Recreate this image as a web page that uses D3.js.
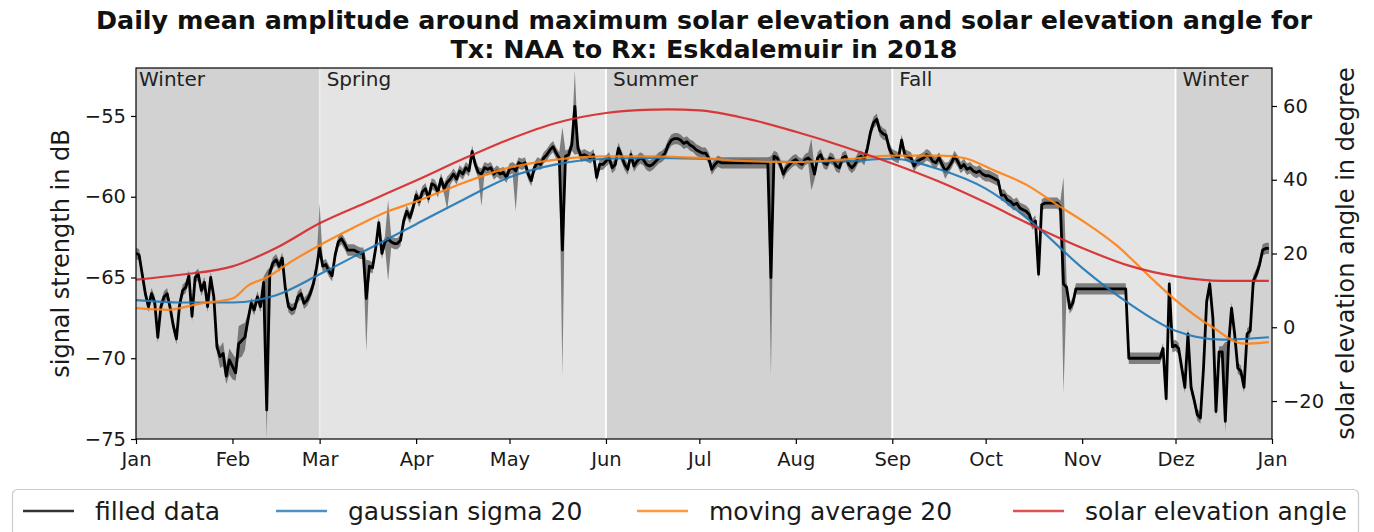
<!DOCTYPE html>
<html>
<head>
<meta charset="utf-8">
<script src="https://cdn.jsdelivr.net/npm/d3@7"></script>
<style>
  body { margin: 0; background: #fff; }
  svg text { font-family: "DejaVu Sans", sans-serif; }
</style>
</head>
<body>
<svg id="chart" width="1374" height="532"></svg>
<script>
// ---- data -----------------------------------------------------------------
const monthTicks  = [0, 31, 59, 90, 120, 151, 181, 212, 243, 273, 304, 334, 365];
const monthLabels = ["Jan", "Feb", "Mar", "Apr", "May", "Jun", "Jul", "Aug", "Sep", "Oct", "Nov", "Dez", "Jan"];

const seasonNames  = ["Winter", "Spring", "Summer", "Fall", "Winter"];
const seasonStarts = [0, 59, 151, 243, 334];
const seasonEnds   = [59, 151, 243, 334, 365];

const signalTicks = [-75, -70, -65, -60, -55];
const angleTicks  = [-20, 0, 20, 40, 60];

// daily signal strength (dB), one value per day of 2018
const filledData = [
  -63.5,-63.6,-64.8,-66.0,-66.8,-66.0,-66.5,-68.7,-66.8,-66.2,
  -66.0,-66.9,-68.0,-68.8,-66.7,-65.8,-65.6,-64.9,-67.4,-65.0,
  -64.8,-65.8,-65.3,-66.8,-65.0,-66.2,-69.3,-69.9,-69.7,-71.1,
  -70.1,-70.5,-70.9,-69.1,-68.9,-68.7,-67.6,-66.6,-67.0,-66.2,
  -66.8,-65.3,-73.2,-64.7,-64.1,-63.9,-64.3,-63.8,-65.7,-66.8,
  -67.0,-66.9,-66.2,-66.0,-66.6,-66.4,-66.0,-65.4,-64.4,-63.2,
  -64.3,-64.2,-64.6,-64.9,-63.6,-62.8,-62.6,-62.9,-63.3,-63.3,
  -63.3,-63.4,-63.5,-63.5,-66.3,-64.3,-64.4,-63.2,-61.6,-63.5,
  -62.8,-62.6,-62.8,-62.9,-62.9,-62.7,-61.5,-60.9,-61.3,-60.7,
  -59.9,-60.3,-59.7,-59.5,-60.1,-59.2,-59.3,-59.7,-58.9,-59.5,
  -59.1,-58.9,-58.6,-58.9,-58.4,-58.6,-58.2,-58.4,-57.2,-58.0,
  -58.5,-58.6,-58.2,-58.3,-58.2,-58.6,-58.4,-58.6,-58.5,-58.8,
  -58.3,-58.2,-58.4,-57.9,-58.0,-57.9,-58.6,-59.0,-58.2,-57.9,
  -58.0,-57.6,-57.4,-57.1,-56.9,-57.3,-57.6,-63.3,-57.5,-57.4,
  -56.8,-54.4,-57.0,-57.5,-57.4,-57.5,-57.6,-57.4,-58.8,-58.0,
  -58.0,-57.8,-57.6,-58.2,-58.0,-57.0,-57.5,-58.0,-58.3,-57.4,
  -58.1,-57.8,-57.6,-57.7,-58.0,-58.1,-58.0,-57.8,-57.6,-57.5,
  -57.3,-56.8,-56.5,-56.4,-56.4,-56.5,-56.7,-56.6,-56.8,-56.9,
  -57.1,-57.2,-57.3,-57.3,-57.6,-58.3,-58.0,-57.8,-57.9,-57.9,
  -57.9,-57.9,-57.9,-57.9,-57.9,-57.9,-57.9,-57.9,-57.9,-57.9,
  -57.9,-57.9,-57.9,-57.9,-65.0,-57.5,-57.6,-58.0,-58.6,-58.2,
  -58.0,-57.8,-57.7,-57.9,-58.0,-57.7,-57.6,-57.8,-58.6,-57.6,
  -57.4,-57.9,-58.0,-57.6,-57.7,-58.1,-58.2,-57.6,-57.5,-58.0,
  -58.2,-58.0,-57.6,-57.5,-57.7,-57.0,-56.0,-55.4,-55.2,-55.9,
  -56.1,-56.2,-57.0,-57.4,-57.5,-57.6,-56.5,-57.4,-57.5,-57.6,
  -58.1,-57.8,-57.7,-57.6,-57.4,-57.5,-57.8,-57.9,-57.6,-58.0,
  -58.4,-58.2,-57.9,-57.5,-57.8,-58.2,-58.0,-58.3,-58.2,-58.4,
  -58.5,-58.4,-58.6,-58.7,-58.7,-58.8,-58.9,-59.0,-59.9,-59.9,
  -60.2,-60.3,-60.5,-60.4,-60.7,-60.8,-60.9,-61.1,-61.7,-61.5,
  -64.8,-60.5,-60.4,-60.4,-60.4,-60.4,-60.4,-60.6,-65.4,-65.6,
  -66.9,-66.6,-65.7,-65.7,-65.7,-65.7,-65.7,-65.7,-65.7,-65.7,
  -65.7,-65.7,-65.7,-65.7,-65.7,-65.7,-65.7,-65.7,-65.7,-70.0,
  -70.0,-70.0,-70.0,-70.0,-70.0,-70.0,-70.0,-70.0,-70.0,-70.0,
  -69.4,-72.5,-65.4,-69.3,-69.2,-69.4,-70.6,-71.8,-68.5,-71.8,
  -72.6,-73.5,-73.7,-70.6,-66.5,-65.4,-67.5,-73.3,-69.6,-69.6,
  -73.9,-69.3,-66.9,-68.5,-70.6,-70.8,-71.8,-68.5,-68.3,-65.2,
  -64.8,-64.2,-63.3,-63.2,-63.2
];

// spread of the raw measurements around the filled series
const bandSpread = 0.35;
const bandDays = [27, 28, 29, 30, 31, 32, 33, 34, 35, 42, 59, 74, 81, 100, 111, 122, 137, 141, 204, 217, 260, 298, 350];
const bandLow  = [-70.6,-70.5,-71.6,-71.0,-71.3,-71.4,-70.0,-69.9,-69.5,-75.0,-63.6,-69.6,-65.2,-60.8,-60.6,-60.9,-71.1,-57.4,-71.1,-59.6,-58.9,-72.2,-74.6];
const bandHigh = [-69.3,-69.0,-70.4,-69.4,-69.7,-70.0,-68.0,-67.9,-67.8,-64.6,-60.4,-63.9,-60.2,-58.9,-58.3,-58.0,-55.7,-52.2,-57.5,-56.4,-57.9,-58.8,-69.0];

// gaussian filtered signal, sigma 20 days
const gaussDays = [0, 15, 31, 45, 59, 75, 90, 105, 120, 135, 151, 166, 181, 196, 212, 227, 243, 258, 273, 288, 304, 319, 334, 349, 364];
const gaussDb   = [-66.4,-66.55,-66.55,-66.1,-64.8,-63.2,-61.7,-60.2,-58.8,-58.0,-57.65,-57.6,-57.65,-57.75,-57.85,-57.8,-57.65,-58.3,-59.5,-61.6,-64.4,-66.6,-68.3,-68.85,-68.7];

// 20 day moving average
const avgDays = [0, 10, 21, 31, 36, 42, 50, 59, 70, 81, 90, 103, 120, 135, 151, 166, 181, 196, 212, 227, 243, 258, 266, 276, 286, 296, 305, 315, 326, 334, 346, 356, 364];
const avgDb   = [-66.9,-67.0,-66.6,-66.3,-65.5,-65.0,-64.0,-63.0,-61.9,-60.9,-60.3,-59.3,-58.2,-57.7,-57.5,-57.5,-57.6,-57.8,-57.85,-57.7,-57.45,-57.45,-57.6,-58.4,-59.25,-60.5,-61.6,-63.0,-65.0,-66.4,-68.1,-69.1,-69.0];

// maximum solar elevation angle (degree)
const solarDays = [0, 15, 31, 45, 59, 75, 90, 105, 120, 135, 151, 166, 171, 181, 196, 212, 227, 243, 258, 273, 288, 304, 319, 334, 349, 364];
const solarDeg  = [12.9, 14.3, 16.5, 21.5, 28.2, 34.2, 39.8, 45.6, 51.0, 55.4, 58.1, 59.0, 59.1, 58.8, 56.6, 53.0, 49.1, 44.4, 39.5, 33.8, 27.6, 21.5, 16.7, 13.8, 12.6, 12.6];

const legendLabels = ["filled data", "gaussian sigma 20", "moving average 20", "solar elevation angle"];
const legendColors = ["#000000", "#1f77b4", "#ff7f0e", "#d62728"];

// ---- layout ---------------------------------------------------------------
const svg = d3.select("#chart");
const plot = { left: 136, right: 1272, top: 68, bottom: 439 };
const TXT = "#1a1a1a";

const x  = d3.scaleLinear().domain([0, 365]).range([plot.left, plot.right]);
const yL = d3.scaleLinear().domain([-75, -52.03]).range([plot.bottom, plot.top]);
const yR = d3.scaleLinear().domain([-30.3, 70.3]).range([plot.bottom, plot.top]);

svg.append("rect").attr("width", 1374).attr("height", 532).attr("fill", "#fff");

svg.append("defs").append("clipPath").attr("id", "plotclip")
  .append("rect")
  .attr("x", plot.left).attr("y", plot.top)
  .attr("width", plot.right - plot.left).attr("height", plot.bottom - plot.top);

// season shading
const seasons = seasonNames.map((n, i) => ({ name: n, start: seasonStarts[i], end: seasonEnds[i], i }));
const shade = svg.append("g");
shade.selectAll("rect").data(seasons).join("rect")
  .attr("x", d => x(d.start)).attr("y", plot.top)
  .attr("width", d => x(d.end) - x(d.start))
  .attr("height", plot.bottom - plot.top)
  .attr("fill", d => (d.name === "Winter" || d.name === "Summer") ? "#d2d2d2" : "#e4e4e4");

shade.selectAll("line").data(seasons.slice(1)).join("line")
  .attr("x1", d => x(d.start)).attr("x2", d => x(d.start))
  .attr("y1", plot.top).attr("y2", plot.bottom)
  .attr("stroke", "#fff")
  .attr("stroke-opacity", d => d.name === "Spring" ? 0.35 : 1)
  .attr("stroke-width", 1.8);

shade.selectAll("text").data(seasons).join("text")
  .attr("x", d => x(d.start) + (d.i === 0 ? 3 : 7))
  .attr("y", 86)
  .attr("font-size", 20)
  .attr("fill", "#222")
  .text(d => d.name);

// data layers
const layers = svg.append("g").attr("clip-path", "url(#plotclip)");

const days = filledData.map((v, i) => i);
const lowArr = filledData.map(v => v - bandSpread);
const highArr = filledData.map(v => v + bandSpread);
bandDays.forEach((d, k) => {
  lowArr[d] = Math.min(lowArr[d], bandLow[k]);
  highArr[d] = Math.max(highArr[d], bandHigh[k]);
});

layers.append("path")
  .datum(days)
  .attr("d", d3.area().x(d => x(d)).y0(d => yL(lowArr[d])).y1(d => yL(highArr[d])))
  .attr("fill", "#3c3c3c").attr("fill-opacity", 0.6);

layers.append("path")
  .datum(days)
  .attr("d", d3.line().x(d => x(d)).y(d => yL(filledData[d])))
  .attr("fill", "none").attr("stroke", "#000").attr("stroke-width", 2.8)
  .attr("stroke-linejoin", "round");

const smooth = (xs, ys, sy) => d3.line().curve(d3.curveMonotoneX)
  .x((d, i) => x(xs[i])).y((d, i) => sy(ys[i]))(ys);

layers.append("path").attr("d", smooth(gaussDays, gaussDb, yL))
  .attr("fill", "none").attr("stroke", legendColors[1]).attr("stroke-width", 2.2).attr("stroke-opacity", 0.9);
layers.append("path").attr("d", smooth(avgDays, avgDb, yL))
  .attr("fill", "none").attr("stroke", legendColors[2]).attr("stroke-width", 2.2).attr("stroke-opacity", 0.9);
layers.append("path").attr("d", smooth(solarDays, solarDeg, yR))
  .attr("fill", "none").attr("stroke", legendColors[3]).attr("stroke-width", 2.2).attr("stroke-opacity", 0.9);

// axes
const minus = v => (v < 0 ? "\u2212" + Math.abs(v) : String(v));
function styleAxis(g) {
  g.select(".domain").remove();
  g.selectAll(".tick line").attr("stroke", "#000").attr("stroke-width", 1.2);
  g.selectAll(".tick text").attr("fill", TXT).attr("font-size", 19.5)
    .attr("font-family", "DejaVu Sans, sans-serif");
}

svg.append("g").attr("transform", `translate(0,${plot.bottom})`)
  .call(d3.axisBottom(x).tickValues(monthTicks).tickFormat((d, i) => monthLabels[i]).tickSize(5).tickPadding(8))
  .call(styleAxis);

svg.append("g").attr("transform", `translate(${plot.left},0)`)
  .call(d3.axisLeft(yL).tickValues(signalTicks).tickFormat(minus).tickSize(5).tickPadding(5))
  .call(styleAxis);

svg.append("g").attr("transform", `translate(${plot.right},0)`)
  .call(d3.axisRight(yR).tickValues(angleTicks).tickFormat(minus).tickSize(5).tickPadding(6))
  .call(styleAxis);

svg.append("rect")
  .attr("x", plot.left).attr("y", plot.top)
  .attr("width", plot.right - plot.left).attr("height", plot.bottom - plot.top)
  .attr("fill", "none").attr("stroke", "#000").attr("stroke-width", 1.2);

// axis titles
svg.append("text")
  .attr("transform", `translate(69,${(plot.top + plot.bottom) / 2}) rotate(-90)`)
  .attr("text-anchor", "middle").attr("font-size", 24).attr("fill", TXT)
  .text("signal strength in dB");

svg.append("text")
  .attr("transform", `translate(1354,${(plot.top + plot.bottom) / 2}) rotate(-90)`)
  .attr("text-anchor", "middle").attr("font-size", 24).attr("fill", TXT)
  .text("solar elevation angle in degree");

// title
const title = svg.append("text").attr("text-anchor", "middle").attr("font-weight", "bold")
  .attr("font-size", 25.4).attr("fill", "#111");
title.append("tspan").attr("x", (plot.left + plot.right) / 2).attr("y", 29)
  .text("Daily mean amplitude around maximum solar elevation and solar elevation angle for");
title.append("tspan").attr("x", (plot.left + plot.right) / 2).attr("y", 58)
  .text("Tx: NAA to Rx: Eskdalemuir in 2018");

// legend
const lg = svg.append("g");
lg.append("rect").attr("x", 12.5).attr("y", 489.5).attr("width", 1346).attr("height", 46)
  .attr("rx", 5).attr("fill", "#fff").attr("stroke", "#cccccc").attr("stroke-width", 1.2);
const legendTextX = [95, 348, 709, 1085];
legendLabels.forEach((lab, i) => {
  lg.append("line")
    .attr("x1", legendTextX[i] - 72).attr("x2", legendTextX[i] - 21)
    .attr("y1", 511).attr("y2", 511)
    .attr("stroke", legendColors[i]).attr("stroke-width", 2.6)
    .attr("stroke-opacity", 0.8);
  lg.append("text").attr("x", legendTextX[i]).attr("y", 520)
    .attr("font-size", 25).attr("fill", TXT).text(lab);
});
</script>
</body>
</html>
